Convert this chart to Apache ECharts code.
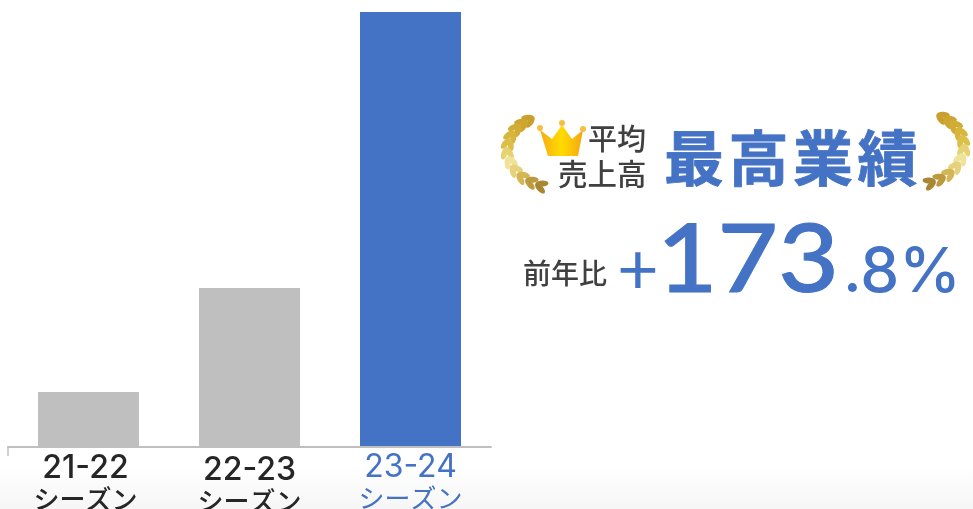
<!DOCTYPE html>
<html lang="ja">
<head>
    <meta charset="UTF-8">
    <title>平均売上高</title>
    <script src="https://cdn.jsdelivr.net/npm/echarts@6/dist/echarts.min.js"></script>
    <style>
        html, body { margin: 0; padding: 0; background: #fff; overflow: hidden; }
        #main { width: 973px; height: 509px; }
    </style>
</head>
<body>
<div id="main"></div>
<script type="text/javascript">
    // values, the source shows no value axis
    var seasons = ['21-22', '22-23', '23-24'];
    var seasonSuffix = 'シーズン';
    var sales = [54, 158, 434];
    var barColors = ['#bfbfbf', '#bfbfbf', '#4472c4'];
    var labelStyles = ['a', 'b', 'c'];
    var titleChars = ['最', '高', '業', '績'];

    var blue = '#4472c4';
    var jp = '"Noto Sans CJK JP"';

    // stem of the left wreath, mirrored for the right one
    var stem = [
        [529, 120], [522, 124], [516, 129], [511, 136], [508, 144], [507, 153],
        [510, 162], [515, 170], [522, 177], [531, 182], [541, 186]
    ];
    var leafColors = ['#c9a02e', '#cda630', '#d2ad34', '#d8b63c', '#dcbf48', '#e6d270',
        '#efe39a', '#e6d27c', '#d4b654', '#bd9a3e', '#a98632'];

    var graphics = [];

    // faint grey fade along the bottom edge
    graphics.push({
        type: 'rect', z: -1,
        shape: { x: 0, y: 465, width: 973, height: 44 },
        style: {
            fill: { type: 'linear', x: 0, y: 0, x2: 0, y2: 1,
                colorStops: [{ offset: 0, color: '#ffffff' }, { offset: 1, color: '#f6f6f6' }] }
        }
    });
    // small tick at the left end of the axis
    graphics.push({
        type: 'line',
        shape: { x1: 8, y1: 447, x2: 8, y2: 456 },
        style: { stroke: '#bfbfbf', lineWidth: 1.5 }
    });

    function addLeaf(x, y, deg, color) {
        graphics.push({
            type: 'ellipse', x: x, y: y, rotation: deg * Math.PI / 180,
            shape: { cx: 0, cy: 0, rx: 6.5, ry: 3 },
            style: { fill: color }
        });
    }
    stem.forEach(function (p, i) {
        var a = stem[Math.max(i - 1, 0)], b = stem[Math.min(i + 1, stem.length - 1)];
        var ang = Math.atan2(-(b[1] - a[1]), b[0] - a[0]) * 180 / Math.PI;
        var nx = -(b[1] - a[1]), ny = b[0] - a[0];
        var len = Math.sqrt(nx * nx + ny * ny);
        nx = nx / len * 2.6;
        ny = ny / len * 2.6;
        [1, -1].forEach(function (side) {
            var x = p[0] + side * nx, y = p[1] + side * ny;
            var deg = ang - side * 25;
            addLeaf(x, y, deg, leafColors[i]);
            addLeaf(1471 - x, y - 3, 180 - deg, leafColors[i]);
        });
    });

    // crown
    graphics.push({
        type: 'polygon',
        shape: { points: [[540, 130], [552, 139], [562, 125], [572, 139], [583, 130], [578, 156], [548, 156]] },
        style: {
            fill: { type: 'linear', x: 0, y: 0, x2: 1, y2: 0,
                colorStops: [{ offset: 0, color: '#f5ab14' }, { offset: 0.5, color: '#ffdc00' }, { offset: 1, color: '#f5a512' }] }
        }
    });
    [[540, 128], [562, 123], [583, 129]].forEach(function (p) {
        graphics.push({ type: 'circle', shape: { cx: p[0], cy: p[1], r: 3 }, style: { fill: '#f9bd40' } });
    });

    function addText(text, x, y, size, color, weight, font, align, stroke, scaleX) {
        graphics.push({
            type: 'text', x: x, y: y, scaleX: scaleX || 1,
            style: {
                text: text, fill: color,
                font: (weight || 500) + ' ' + size + 'px ' + (font || jp),
                textAlign: align || 'left', textVerticalAlign: 'middle',
                stroke: stroke ? color : null, lineWidth: stroke || 0, lineJoin: 'round'
            }
        });
    }

    addText('平均', 588, 139, 29, '#404040', 500);
    addText('売上高', 558, 174, 29.5, '#404040', 500);
    titleChars.forEach(function (c, i) {
        addText(c, 694 + i * 64.5, 158, 60, blue, 700, jp, 'center', 0.8);
    });
    addText('前年比', 523, 273, 28, '#404040', 500);
    addText('+', 638, 271, 72, blue, 400, 'Lato', 'center');
    addText('173', 657, 261, 95, blue, 500, 'Lato', 'left', 1, 1.1);
    addText('.8%', 843, 273, 62, blue, 500, 'Inter');

    var chart = echarts.init(document.getElementById('main'), null, { renderer: 'canvas' });
    chart.setOption({
        animation: false,
        grid: { left: 8, top: 12, width: 483, height: 434, outerBoundsMode: 'none' },
        xAxis: {
            type: 'category',
            data: seasons,
            offset: 1,
            axisLine: { show: true, onZero: false, lineStyle: { color: '#bfbfbf', width: 2 } },
            axisTick: { show: false },
            axisLabel: {
                margin: 0,
                interval: 0,
                hideOverlap: false,
                formatter: function (value, i) {
                    var k = labelStyles[i];
                    return '{' + k + '1|' + value + '}\n{' + k + '2|' + seasonSuffix + '}';
                },
                rich: {
                    a1: { fontFamily: 'Inter', fontWeight: 500, fontSize: 32, color: '#262626', height: 32, padding: [5, 6, 0, 0] },
                    a2: { fontFamily: jp, fontWeight: 500, fontSize: 26, color: '#262626', height: 31, padding: [0, 6, 0, 0] },
                    b1: { fontFamily: 'Inter', fontWeight: 500, fontSize: 32, color: '#262626', height: 32, padding: [7, 0, 0, 0] },
                    b2: { fontFamily: jp, fontWeight: 500, fontSize: 26, color: '#262626', height: 30 },
                    c1: { fontFamily: 'Inter', fontWeight: 400, fontSize: 32, color: blue, height: 32, padding: [4, 0, 0, 0] },
                    c2: { fontFamily: jp, fontWeight: 400, fontSize: 26, color: blue, height: 30 }
                }
            }
        },
        yAxis: { type: 'value', min: 0, max: 434, show: false },
        series: [{
            type: 'bar',
            barWidth: 101,
            data: sales.map(function (v, i) {
                return { value: v, itemStyle: { color: barColors[i] } };
            })
        }],
        graphic: { elements: graphics }
    });
</script>
</body>
</html>
